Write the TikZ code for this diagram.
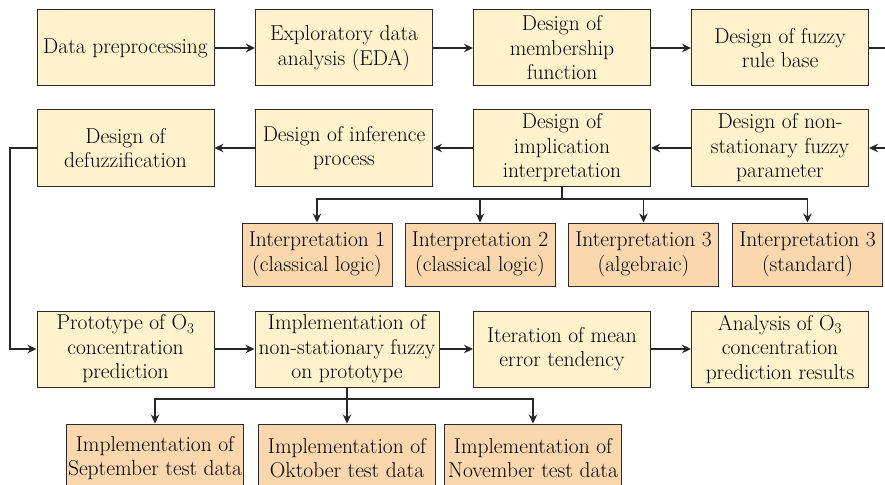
\documentclass[tikz,border=0pt]{standalone}
\usetikzlibrary{arrows.meta,positioning,calc}
\definecolor{boxfill}{HTML}{FFF2CC}
\definecolor{subfill}{HTML}{FAD7AC}
\definecolor{edge}{HTML}{2B2B2B}

\tikzset{
    box/.style={draw=edge, line width=1pt, fill=boxfill, align=center,
        minimum width=177pt, minimum height=76pt, inner sep=0pt,
        font=\fontsize{21.5}{24.5}\selectfont},
    subbox/.style={box, fill=subfill, minimum width=150pt, minimum height=63pt},
    testbox/.style={box, fill=subfill, minimum width=177pt, minimum height=68pt},
    link/.style={draw=black!85, line width=1.1pt, -{Stealth[length=9pt,width=8.5pt]}},
    plain/.style={draw=black!85, line width=1.1pt}
}

\begin{document}
\begin{tikzpicture}[x=1pt, y=-1pt]
    \useasboundingbox (0,0) rectangle (885,484);
    \clip (0,0) rectangle (885,484);

    % Row 1
    \node[box] (prep) at (125.5, 48) {Data preprocessing};
    \node[box] (eda)  at (344, 48) {Exploratory data\\analysis (EDA)};
    \node[box] (memb) at (562, 48) {Design of\\membership\\function};
    \node[box] (rule) at (780, 48) {Design of fuzzy\\rule base};
    \draw[link] (prep) -- (eda);
    \draw[link] (eda) -- (memb);
    \draw[link] (memb) -- (rule);
    \coordinate (out1) at (885, 48);
    \draw[plain] (rule) -- (out1);

    % Row 2 (right to left)
    \node[box] (defz) at (125.5, 148) {Design of\\defuzzification};
    \node[box] (infr) at (344, 148) {Design of inference\\process};
    \node[box] (impl) at (562, 148) {Design of\\implication\\interpretation};
    \node[box] (nsfp) at (780, 148) {Design of non-\\stationary fuzzy\\parameter};
    \coordinate (in2) at (885, 148);
    \draw[link] (in2) -- (nsfp);
    \draw[link] (nsfp) -- (impl);
    \draw[link] (impl) -- (infr);
    \draw[link] (infr) -- (defz);

    % Interpretations
    \node[subbox] (int1) at (317, 254.5) {Interpretation 1\\(classical logic)};
    \node[subbox] (int2) at (480, 254.5) {Interpretation 2\\(classical logic)};
    \node[subbox] (int3) at (643.5, 254.5) {Interpretation 3\\(algebraic)};
    \node[subbox] (int4) at (807.5, 254.5) {Interpretation 3\\(standard)};
    \coordinate (bus1) at (562, 199);
    \draw[plain] (impl) -- (bus1);
    \foreach \n in {int1, int2, int3, int4} {
        \draw[link] (bus1) -| (\n.north);
    }

    % Row 3
    \node[box] (prot) at (125.5, 349) {Prototype of O\textsubscript{3}\\concentration\\prediction};
    \node[box, minimum width=184pt] (nsim) at (347, 349) {Implementation of\\non-stationary fuzzy\\on prototype};
    \node[box] (iter) at (562, 349) {Iteration of mean\\error tendency};
    \node[box] (anal) at (780, 349) {Analysis of O\textsubscript{3}\\concentration\\prediction results};
    \coordinate (turn) at (10, 148);
    \draw[link] (defz.west) -- (turn) |- (prot.west);
    \draw[link] (prot) -- (nsim);
    \draw[link] (nsim) -- (iter);
    \draw[link] (iter) -- (anal);

    % Test data
    \node[testbox] (sept) at (155, 458) {Implementation of\\September test data};
    \node[testbox] (okto) at (347, 458) {Implementation of\\Oktober test data};
    \node[testbox] (nove) at (533, 458) {Implementation of\\November test data};
    \coordinate (bus2) at (347, 399);
    \draw[plain] (nsim) -- (bus2);
    \foreach \n in {sept, okto, nove} {
        \draw[link] (bus2) -| (\n.north);
    }
\end{tikzpicture}
\end{document}
